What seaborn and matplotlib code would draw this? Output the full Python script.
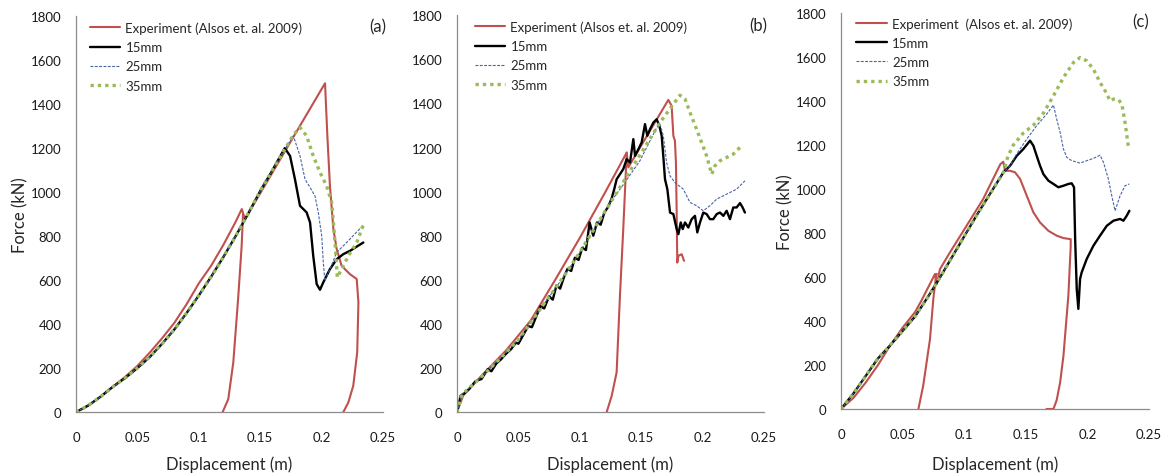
import matplotlib
matplotlib.use("Agg")
import matplotlib.pyplot as plt
from matplotlib.lines import Line2D
import seaborn as sns
import pandas as pd

# ---- panel (a) ----
base_a_x = [0, 0.01, 0.02, 0.03, 0.04, 0.05, 0.06, 0.07, 0.08, 0.09, 0.10, 0.11, 0.12, 0.13, 0.14, 0.15, 0.16]
base_a_f = [0, 30, 70, 115, 155, 200, 250, 310, 375, 450, 530, 615, 705, 800, 900, 1005, 1100]
t15_a_x = [0.170, 0.1743, 0.1783, 0.1824, 0.1878, 0.1906, 0.1932, 0.196, 0.1987, 0.2014, 0.2068, 0.2123, 0.2177, 0.2231, 0.234]
t15_a_f = [1200, 1165, 1059, 938, 908, 862, 710, 582, 556, 590, 650, 695, 718, 733, 771]
t25_a_x = [0.170, 0.177, 0.1824, 0.1865, 0.1906, 0.1946, 0.1973, 0.2001, 0.2014, 0.2027, 0.2068, 0.2123, 0.2204, 0.234]
t25_a_f = [1195, 1256, 1165, 1059, 1021, 983, 908, 801, 680, 597, 650, 726, 771, 850]
t35_a_x = [0.170, 0.177, 0.1824, 0.1878, 0.1932, 0.1987, 0.2041, 0.2082, 0.2101, 0.2117, 0.2128, 0.2163, 0.2218, 0.2286, 0.234]
t35_a_f = [1195, 1260, 1294, 1256, 1165, 1090, 1028, 953, 832, 710, 612, 650, 710, 771, 850]
exp_a_x = [0, 0.01, 0.02, 0.03, 0.04, 0.05, 0.06, 0.07, 0.08, 0.09, 0.10, 0.11, 0.12, 0.13, 0.135,
           0.1376, 0.2028, 0.2047, 0.2068, 0.2096, 0.2123, 0.2163, 0.2231, 0.2286, 0.230, 0.229,
           0.2258, 0.2218, 0.2177]
exp_a_f = [0, 30, 70, 115, 160, 210, 270, 335, 405, 490, 585, 665, 760, 865, 923,
           877, 1495, 1256, 1028, 832, 741, 665, 627, 605, 499, 271, 120, 44, 0]
exp2_a_x = [0.1194, 0.124, 0.1281, 0.1322, 0.1349, 0.136]
exp2_a_f = [0, 59, 226, 529, 756, 900]

# ---- panel (b) ----
base_b_x = [0, 0.004, 0.01, 0.02, 0.03, 0.04, 0.05, 0.06, 0.07, 0.08, 0.09, 0.10, 0.11, 0.12]
base_b_f = [0, 80, 110, 160, 215, 270, 330, 405, 485, 560, 640, 725, 815, 905]
t15_b_x = [0, 0.003, 0.006, 0.01, 0.015, 0.02, 0.025, 0.028, 0.032, 0.036, 0.04, 0.044, 0.048, 0.05,
           0.054, 0.058, 0.061, 0.065, 0.068, 0.071, 0.075, 0.078, 0.081, 0.084, 0.087, 0.09, 0.093,
           0.096, 0.099, 0.102, 0.105, 0.108, 0.111, 0.114, 0.117, 0.12, 0.123, 0.126, 0.128,
           0.130, 0.1327, 0.1354, 0.1382, 0.1409, 0.1436, 0.145, 0.1477, 0.1504, 0.1531, 0.155,
           0.1572, 0.1599, 0.1626, 0.1648, 0.1667, 0.168, 0.1694, 0.1713, 0.1735, 0.1762, 0.1789,
           0.1803, 0.1822, 0.1838, 0.1857, 0.1884, 0.1911, 0.1938, 0.1957, 0.1979, 0.2006, 0.2033,
           0.206, 0.2087, 0.2115, 0.2142, 0.2169, 0.2196, 0.2223, 0.225, 0.2277, 0.2305, 0.2326, 0.2345]
t15_b_f = [0, 75, 85, 105, 140, 150, 195, 185, 220, 240, 265, 285, 315, 310,
           350, 390, 385, 440, 480, 470, 525, 510, 575, 560, 610, 650, 640,
           700, 690, 745, 735, 860, 800, 860, 850, 905, 930, 970, 1010,
           1056, 1079, 1102, 1147, 1132, 1238, 1162, 1192, 1223, 1306, 1253,
           1283, 1313, 1328, 1298, 1253, 1162, 1056, 1011, 905, 898, 830,
           807, 860, 830, 860, 837, 875, 890, 815, 860, 905, 898,
           875, 875, 898, 905, 890, 913, 875, 928, 928, 948, 928, 905]
t25_b_x = [0.1246, 0.1327, 0.149, 0.1626, 0.1653, 0.168, 0.1707, 0.1735, 0.1775, 0.1843, 0.1897,
           0.1951, 0.2006, 0.206, 0.2115, 0.2169, 0.2223, 0.2277, 0.2345]
t25_b_f = [950, 1010, 1140, 1290, 1306, 1253, 1132, 1071, 1041, 1011, 951,
           936, 913, 936, 966, 981, 996, 1011, 1049]
t35_b_x = [0.13, 0.14, 0.15, 0.16, 0.1653, 0.1762, 0.1816, 0.1857, 0.1897, 0.1951, 0.1992, 0.2033,
           0.2074, 0.2101, 0.2142, 0.2196, 0.225, 0.2318]
t35_b_f = [995, 1085, 1175, 1265, 1313, 1397, 1437, 1420, 1360, 1283, 1223, 1162,
           1079, 1117, 1140, 1155, 1170, 1208]
exp_b_x = [0, 0.005, 0.02, 0.04, 0.06, 0.08, 0.10, 0.12, 0.1382, 0.1395, 0.1721, 0.1748, 0.1762,
           0.1775, 0.1783, 0.1789, 0.1794, 0.1803, 0.183, 0.1849]
exp_b_f = [0, 75, 165, 280, 415, 600, 790, 990, 1177, 1110, 1416, 1389, 1253,
           1230, 1132, 905, 678, 709, 716, 686]
exp2_b_x = [0.1219, 0.126, 0.13, 0.1327, 0.1354, 0.1376, 0.1382]
exp2_b_f = [0, 74, 180, 527, 830, 1100, 1177]

# ---- panel (c) ----
base_c_x = [0, 0.01, 0.02, 0.03, 0.04, 0.05, 0.06, 0.07, 0.08, 0.09, 0.10, 0.11, 0.12, 0.1318]
base_c_f = [0, 70, 150, 230, 290, 355, 420, 505, 595, 690, 785, 880, 970, 1076]
t15_c_x = [0.1372, 0.1426, 0.148, 0.1534, 0.1561, 0.1588, 0.1615, 0.1642, 0.1683, 0.1724, 0.1764,
           0.1805, 0.1845, 0.1872, 0.1891, 0.19, 0.1913, 0.1926, 0.194, 0.1953, 0.1994, 0.2048,
           0.2102, 0.2157, 0.2211, 0.2265, 0.2292, 0.2319, 0.234]
t15_c_f = [1106, 1151, 1182, 1220, 1197, 1151, 1106, 1068, 1038, 1023, 1008,
           1015, 1023, 1026, 1008, 773, 545, 455, 591, 621, 682, 742,
           788, 833, 856, 864, 856, 879, 901]
t25_c_x = [0.1372, 0.1426, 0.1507, 0.1588, 0.1669, 0.1724, 0.175, 0.1778, 0.1805, 0.1832, 0.1872,
           0.194, 0.1994, 0.2048, 0.2102, 0.213, 0.217, 0.2197, 0.2224, 0.2265, 0.2305, 0.234]
t25_c_f = [1106, 1160, 1227, 1288, 1341, 1382, 1318, 1258, 1182, 1144, 1129,
           1118, 1129, 1139, 1154, 1121, 1045, 970, 901, 970, 1015, 1023]
t35_c_x = [0.1355, 0.1398, 0.148, 0.1561, 0.1642, 0.1724, 0.1805, 0.1886, 0.194, 0.1994, 0.2048,
           0.2102, 0.2143, 0.2184, 0.2211, 0.2252, 0.2279, 0.2305, 0.2333]
t35_c_f = [1150, 1200, 1255, 1290, 1345, 1424, 1507, 1575, 1598, 1583, 1545,
           1485, 1447, 1401, 1409, 1406, 1386, 1303, 1189]
exp_c_x = [0, 0.01, 0.02, 0.03, 0.04, 0.05, 0.06, 0.065, 0.07, 0.0763, 0.0777, 0.0803, 0.0884, 0.102,
           0.1153, 0.1293, 0.1317, 0.1331, 0.1372, 0.1412, 0.1453, 0.1507, 0.1561, 0.1615, 0.1683,
           0.175, 0.1805, 0.1864, 0.1864, 0.1845, 0.1805, 0.1778, 0.175, 0.1724, 0.1667]
exp_c_f = [0, 50, 120, 200, 290, 370, 440, 490, 545, 614, 568, 636, 712, 834,
           954, 1113, 1124, 1083, 1083, 1076, 1046, 970, 894, 848, 810,
           788, 777, 772, 740, 515, 242, 120, 40, 0, 0]
exp2_c_x = [0.0628, 0.0667, 0.0722, 0.0749, 0.0771, 0.0777]
exp2_c_f = [0, 106, 318, 500, 606, 614]

x_ticks = [0, 0.05, 0.1, 0.15, 0.2, 0.25]
x_tick_labels = ["0", "0.05", "0.1", "0.15", "0.2", "0.25"]
y_ticks = list(range(0, 1801, 200))

RED = "#C0504D"
styles = {
    "exp": dict(color=RED, lw=1.5),
    "15": dict(color="black", lw=1.7),
    "25": dict(color="#4565A5", lw=0.8, linestyle=(0, (2.6, 1.3))),
    "35": dict(color="#9BBB59", lw=2.4, linestyle=(0, (1.0, 1.2))),
}

panels = [
    dict(exp=(exp_a_x, exp_a_f), exp2=(exp2_a_x, exp2_a_f),
         s15=(base_a_x + t15_a_x, base_a_f + t15_a_f),
         s25=(base_a_x + t25_a_x, base_a_f + t25_a_f),
         s35=(base_a_x + t35_a_x, base_a_f + t35_a_f),
         tag="(a)", exp_label="Experiment (Alsos et. al. 2009)", ylabel=True,
         rect=[0.0648, 0.134, 0.2617, 0.830], leg=(0.045, 0.987), tagpos=(0.984, 0.975),
         xlab_y=-0.131),
    dict(exp=(exp_b_x, exp_b_f), exp2=(exp2_b_x, exp2_b_f),
         s15=(t15_b_x, t15_b_f),
         s25=(base_b_x + t25_b_x, base_b_f + t25_b_f),
         s35=(base_b_x + t35_b_x, base_b_f + t35_b_f),
         tag="(b)", exp_label="Experiment (Alsos et. al. 2009)", ylabel=False,
         rect=[0.3896, 0.134, 0.2617, 0.832], leg=(0.058, 0.987), tagpos=(0.98, 0.975),
         xlab_y=-0.131),
    dict(exp=(exp_c_x, exp_c_f), exp2=(exp2_c_x, exp2_c_f),
         s15=(base_c_x + t15_c_x, base_c_f + t15_c_f),
         s25=(base_c_x + t25_c_x, base_c_f + t25_c_f),
         s35=(base_c_x + t35_c_x, base_c_f + t35_c_f),
         tag="(c)", exp_label="Experiment  (Alsos et. al. 2009)", ylabel=True,
         rect=[0.717, 0.1405, 0.2626, 0.830], leg=(0.05, 0.99), tagpos=(0.971, 0.98),
         xlab_y=-0.139),
]

sns.set_style("white")
plt.rcParams["font.family"] = ["Lato", "DejaVu Sans"]

fig = plt.figure(figsize=(11.73, 4.77), dpi=100)

for p in panels:
    ax = fig.add_axes(p["rect"])
    for key, sty in (("exp", "exp"), ("exp2", "exp"), ("s15", "15"), ("s25", "25"), ("s35", "35")):
        xs, fs = p[key]
        df = pd.DataFrame({"x": xs, "f": fs})
        sns.lineplot(data=df, x="x", y="f", sort=False, estimator=None, ax=ax, **styles[sty])

    ax.set_xlim(0, 0.25)
    ax.set_ylim(0, 1800)
    ax.set_xticks(x_ticks)
    ax.set_xticklabels(x_tick_labels)
    ax.set_yticks(y_ticks)
    ax.tick_params(axis="both", labelsize=9.5, labelcolor="#1a1a1a", color="#8c8c8c",
                   length=4.5, width=0.9, direction="out", pad=6)
    ax.tick_params(axis="x", pad=9)
    for side in ("top", "right"):
        ax.spines[side].set_visible(False)
    for side in ("left", "bottom"):
        ax.spines[side].set_color("#8c8c8c")
        ax.spines[side].set_linewidth(0.9)

    ax.set_xlabel("Displacement (m)", fontsize=12, va="center")
    ax.xaxis.set_label_coords(0.5, p["xlab_y"])
    if p["ylabel"]:
        ax.set_ylabel("Force (kN)", fontsize=12, va="center")
        ax.yaxis.set_label_coords(-0.182, 0.5)
    else:
        ax.set_ylabel("")

    handles = [Line2D([], [], **styles[k]) for k in ("exp", "15", "25", "35")]
    labels = [p["exp_label"], "15mm", "25mm", "35mm"]
    ax.legend(handles, labels, loc="upper left", bbox_to_anchor=p["leg"], frameon=False,
              fontsize=9.5, handlelength=2.3, handletextpad=0.4, labelspacing=0.55,
              borderaxespad=0, borderpad=0)
    ax.text(p["tagpos"][0], p["tagpos"][1], p["tag"], transform=ax.transAxes,
            ha="center", va="center", fontsize=12)

fig.savefig("out.png", dpi=100)
